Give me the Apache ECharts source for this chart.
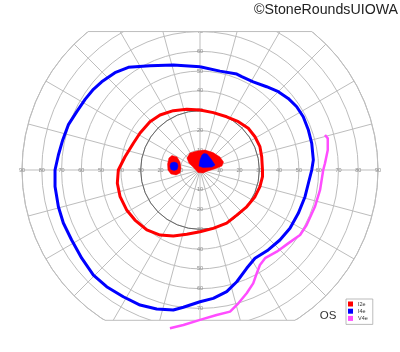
<!DOCTYPE html>
<html><head><meta charset="utf-8">
<script src="https://cdn.jsdelivr.net/npm/echarts@6/dist/echarts.min.js"></script>
<style>html,body{margin:0;padding:0;background:#fff}#c{width:400px;height:352px}</style>
</head><body><div id="c"></div>
<script>
// ---- data (visual-field degrees: [horizontal, vertical]) ----
const seriesNames = ['I2e', 'I4e', 'V4e'];
const seriesColors = ['#ff0000', '#0000ff', '#ff4dff'];
const eccTicks = [10, 20, 30, 40, 50, 60, 70, 80, 90];
const i2eIsopter = [[0,30.3],[-6.7,30.7],[-13.5,30.0],[-20.2,27.8],[-25.3,24.4],[-30.3,18.7],[-33.7,13.5],[-37.9,6.7],[-41.3,0],[-41.8,-6.7],[-40.4,-13.5],[-37.1,-20.2],[-32.9,-25.3],[-26.9,-30.3],[-20.2,-32.9],[-13.5,-33.4],[-6.7,-32.5],[0,-31.2],[6.7,-29.5],[13.5,-26.9],[18.6,-22.8],[23.6,-18.6],[27.8,-13.5],[30.3,-8.4],[31.6,-3.4],[31.6,0],[31.2,6.7],[30.3,11.8],[27.8,16.8],[24.4,21.1],[19.4,24.4],[13.5,26.9],[6.7,29.0],[0,30.3]];
const i4eIsopter = [[0,52.2],[-13.5,53.1],[-25.3,52.7],[-36.2,51.9],[-43.0,49.2],[-49.7,44.6],[-53.9,40.8],[-58.1,35.7],[-62.3,29.5],[-66.6,22.8],[-69.4,15.2],[-71.6,7.6],[-73.3,0],[-73.3,-8.4],[-71.6,-18.6],[-69.1,-26.8],[-64.9,-35.4],[-59.8,-44.6],[-53.9,-53.1],[-47.2,-59.0],[-38.8,-64.1],[-30.3,-68.3],[-21.9,-70.3],[-13.5,-70.8],[-8.4,-69.4],[0,-66.6],[6.7,-64.9],[13.5,-61.5],[18.6,-56.5],[23.6,-49.7],[27.8,-44.6],[34.5,-40.4],[40.4,-35.4],[45.5,-29.5],[49.7,-21.9],[53.1,-13.5],[54.8,-6.7],[56.5,0],[57.3,5.1],[56.5,13.5],[54.8,20.2],[52.2,26.9],[48.9,32.0],[44.6,36.2],[39.6,39.6],[33.7,42.1],[26.9,44.6],[21.1,47.2],[18.6,48.5],[10.1,50.0],[0,52.2]];
const v4eIsopter = [[63.2,17.7],[64.6,16.0],[64.6,10.1],[63.2,3.4],[62.3,0],[60.7,-10.1],[58.1,-18.6],[53.9,-27.8],[50.6,-32.9],[44.6,-37.1],[38.8,-41.3],[32.9,-44.6],[30.3,-48.0],[28.7,-52.2],[26.9,-57.3],[23.6,-62.3],[19.4,-67.4],[15.2,-71.6],[8.4,-73.3],[0,-75.8],[-8.4,-78.4],[-15.2,-80.0]];
const i2eCentralArea = [[-6.6,6.1],[-5.1,8.6],[-1.5,9.6],[2.5,10.1],[6.6,8.8],[10.1,6.6],[11.9,4.0],[11.1,2.0],[8.1,0.8],[4.0,-0.5],[1.5,-1.5],[-1.0,-1.3],[-3.5,1.5],[-5.6,3.5]];
const i2eBlindSpot = [[-14.2,7.3],[-11.6,6.6],[-10.1,4.0],[-9.6,1.0],[-10.1,-1.5],[-12.1,-2.5],[-14.7,-2.0],[-16.2,0],[-16.4,3.0],[-15.7,6.1]];
const i4eCentralArea = [[2.0,8.3],[3.5,8.1],[5.6,5.6],[7.6,2.5],[6.1,1.5],[1.5,1.3],[-0.5,2.0],[0,5.1],[1.0,7.6]];
const i4eBlindSpot = [[-13.1,4.0],[-11.6,3.5],[-11.1,2.0],[-11.6,0.3],[-13.1,-0.3],[-14.7,0.3],[-15.2,2.0],[-14.7,3.5]];

// ---- layout ----
const CX = 200, CY = 170, R = 178, S = R / 90;
const YMAX = 85, YMIN = -90;
const GRID = '#bdbdbd', FONT = '"Liberation Sans", Arial, sans-serif';
const topY = CY - 70 * S, botY = CY + 76 * S;
const hwTop = Math.sqrt(R * R - (CY - topY) ** 2), hwBot = Math.sqrt(R * R - (botY - CY) ** 2);

const chart = echarts.init(document.getElementById('c'), null, {renderer: 'canvas'});

const starts = [0, 90, 180, 270];
const polar = starts.map(() => ({center: [CX, CY], radius: R}));
polar.push({center: [CX, CY], radius: 30 * S});
const angleAxis = starts.map((a, i) => ({
  polarIndex: i, type: 'value', min: 0, max: 360, interval: 15, startAngle: a, clockwise: false,
  axisLine: {show: i === 0, lineStyle: {color: GRID, width: 1}},
  axisTick: {show: false}, axisLabel: {show: false},
  splitLine: {show: i === 0, lineStyle: {color: GRID, width: 1}}
}));
angleAxis.push({polarIndex: 4, type: 'value', min: 0, max: 360, startAngle: 0,
  axisLine: {show: true, lineStyle: {color: '#666', width: 1}}, axisTick: {show: false},
  axisLabel: {show: false}, splitLine: {show: false}});
const radiusAxis = starts.map((a, i) => ({
  polarIndex: i, type: 'value', min: 0, max: 90, interval: 10,
  axisLine: {show: false}, axisTick: {show: false},
  splitLine: {show: i === 0, lineStyle: {color: GRID, width: 1}},
  axisLabel: {show: true, margin: 0, fontSize: 5.5, color: '#8a8a8a', fontFamily: FONT,
    align: 'center', verticalAlign: 'middle', showMinLabel: false,
    formatter: v => eccTicks.includes(v) ? String(v) : ''}
}));
radiusAxis.push({polarIndex: 4, type: 'value', min: 0, max: 30, show: false});

function areaSeries(name, pts, color) {
  return {
    name, type: 'custom', coordinateSystem: 'cartesian2d', xAxisIndex: 0, yAxisIndex: 0,
    itemStyle: {color}, data: [[0, 0]], z: 3, silent: true,
    renderItem: (params, api) => ({
      type: 'polygon',
      shape: {points: pts.map(p => api.coord(p))},
      style: {fill: color, stroke: color, lineWidth: 0.5}
    })
  };
}
function lineSeries(name, pts, color, w) {
  return {
    name, type: 'line', data: pts, showSymbol: false, symbol: 'none', smooth: false,
    lineStyle: {color, width: w}, itemStyle: {color}, z: 4, silent: true, animation: false
  };
}

chart.setOption({
  animation: false,
  backgroundColor: '#fff',
  polar, angleAxis, radiusAxis,
  grid: {left: CX - R, top: CY - YMAX * S, width: 2 * R, height: (YMAX - YMIN) * S, containLabel: false},
  xAxis: {type: 'value', min: -90, max: 90, show: false},
  yAxis: {type: 'value', min: YMIN, max: YMAX, show: false},
  legend: {
    data: seriesNames.map((n, i) => ({name: n, icon: 'rect', itemStyle: {color: seriesColors[i]}})),
    orient: 'vertical', left: 346, top: 299, itemWidth: 5, itemHeight: 5, itemGap: 1.2,
    padding: [2, 5, 3, 2], borderColor: '#aaa', borderWidth: 0.8, backgroundColor: '#fff',
    textStyle: {fontSize: 5.5, color: '#333', fontFamily: FONT}, selectedMode: false
  },
  graphic: [
    {type: 'rect', shape: {x: 0, y: 0, width: 400, height: topY}, style: {fill: '#fff'}, z: 1, silent: true},
    {type: 'rect', shape: {x: 0, y: botY, width: 400, height: 352 - botY}, style: {fill: '#fff'}, z: 1, silent: true},
    {type: 'line', shape: {x1: CX - hwTop, y1: topY, x2: CX + hwTop, y2: topY}, style: {stroke: GRID, lineWidth: 1}, z: 1, silent: true},
    {type: 'line', shape: {x1: CX - hwBot, y1: botY, x2: CX + hwBot, y2: botY}, style: {stroke: GRID, lineWidth: 1}, z: 1, silent: true},
    {type: 'text', x: 398, y: 10, z: 10, style: {text: '©StoneRoundsUIOWA', fontSize: 14.2, fontFamily: FONT, fill: '#222', align: 'right', verticalAlign: 'middle'}},
    {type: 'text', x: 328, y: 316, z: 10, style: {text: 'OS', fontSize: 11.5, fontFamily: FONT, fill: '#333', align: 'center', verticalAlign: 'middle'}}
  ],
  series: [
    lineSeries(seriesNames[0], i2eIsopter, seriesColors[0], 3),
    lineSeries(seriesNames[1], i4eIsopter, seriesColors[1], 3),
    lineSeries(seriesNames[2], v4eIsopter, seriesColors[2], 2.5),
    areaSeries(seriesNames[0], i2eCentralArea, seriesColors[0]),
    areaSeries(seriesNames[0], i2eBlindSpot, seriesColors[0]),
    areaSeries(seriesNames[1], i4eCentralArea, seriesColors[1]),
    areaSeries(seriesNames[1], i4eBlindSpot, seriesColors[1])
  ]
});
</script></body></html>
